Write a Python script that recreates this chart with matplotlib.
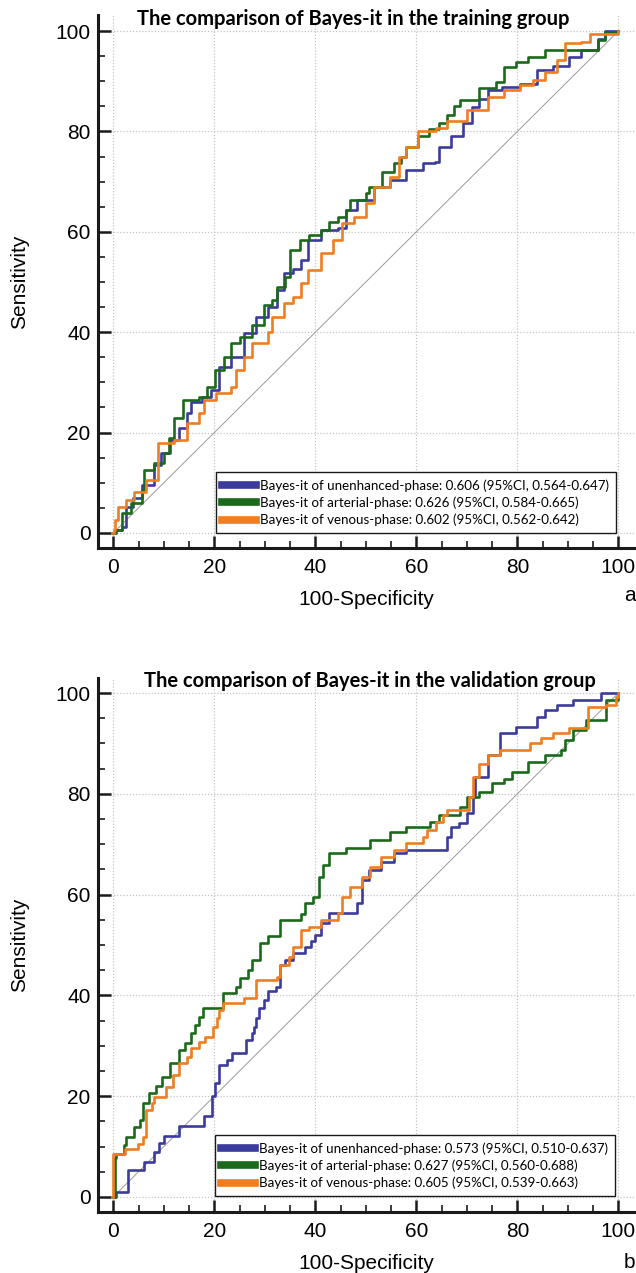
import matplotlib
matplotlib.use("Agg")
import matplotlib.pyplot as plt
from matplotlib.ticker import MultipleLocator

# ---------------- data (100-Specificity, Sensitivity) ----------------
a_unenh_x = [0, 0.5, 1.7, 2.5, 4, 5.7, 8.1, 9.5, 11.3, 13, 14.6, 15.4, 17.5, 19.4, 21, 23.4, 25.8, 28.3, 30.7,
             32.4, 33.8, 35.5, 37.2, 38.6, 41.1, 44.4, 46, 48.3, 51.7, 54.8, 58, 61.4, 63.6, 64.5, 66.9, 69.3,
             71, 72.5, 74.2, 77, 80.6, 83.8, 87, 90.3, 92.7, 95.9, 97.3, 100]
a_unenh_y = [0, 0.6, 1.2, 5.2, 7, 9.6, 13.5, 16, 18.5, 21, 23.9, 26.1, 27, 28.5, 33.1, 35.1, 39.8, 43, 45,
             48.4, 51.8, 52.5, 54.4, 58.4, 60.4, 60.8, 64.3, 66.3, 69, 70.3, 72.3, 73.7, 74, 77, 79, 81.6,
             84.9, 86.5, 88.2, 88.8, 89.5, 92.2, 93, 94.8, 96.2, 98.4, 100, 100]

a_art_x = [0, 0.3, 1.7, 3.5, 5.7, 6, 8.1, 10, 11, 12.1, 13.8, 17, 18.5, 20.2, 22, 23.4, 25, 27.4, 29.9, 31.5,
           32.5, 33.9, 35, 37, 38.7, 41.1, 42.7, 44.5, 46, 46.8, 50, 50.7, 53.2, 55.6, 57, 58, 60.4, 62.5,
           64.5, 66.1, 67.5, 68.6, 72.5, 75.8, 77.3, 79.8, 82.1, 85.5, 93.5, 95.9, 97.3, 100]
a_art_y = [0, 0.6, 4, 6, 8.6, 12.5, 13.9, 16, 19, 23, 26.5, 27, 29, 32.5, 35, 37.8, 39, 41.4, 45.4, 46.5,
           49, 51, 56.4, 58.4, 59.4, 60.4, 62, 63, 64.3, 66.3, 67.7, 69, 72, 73.7, 75, 77, 79, 80.5,
           81.6, 83.3, 85, 86.3, 88.6, 89.9, 92.8, 93.8, 94.8, 96.2, 96.2, 98.2, 99.8, 100]

a_ven_x = [0, 0.1, 0.4, 1, 2.5, 4.1, 6.5, 8.9, 8.9, 12.1, 14.5, 16.9, 17.9, 20.3, 23.4, 24.2, 25.8, 27.5,
           30.7, 31.4, 33.8, 35.5, 37.2, 38.6, 41.1, 43.5, 45.2, 47.6, 50, 51.6, 54.8, 56.5, 58, 60.4, 63.8,
           66.1, 70.1, 74.2, 77.3, 80.6, 83, 85.5, 87.9, 89.4, 92.7, 94.3, 100]
a_ven_y = [0, 0.6, 2.6, 5.2, 6.5, 8.2, 10.6, 13.2, 17.9, 18.5, 21.9, 23.9, 26.5, 27.9, 29.1, 32.5, 35.1, 37.8,
           40, 43, 45.8, 47, 49.8, 52.4, 55.8, 58.4, 61.8, 63, 65.7, 69, 70.9, 74.9, 77, 80, 80.6,
           82, 84.3, 86.9, 88.2, 89.2, 90.2, 91.8, 94.2, 97.6, 97.9, 99.4, 100]

b_unenh_x = [0, 0.5, 3, 3, 6, 6, 8, 8, 9, 10, 13, 13, 18, 18, 19.5, 19.5, 20.2, 21, 22.6, 23.5, 26.2, 26.2,
             27.5, 27.9, 28.3, 28.8, 29.8, 30.6, 32.2, 33.1, 34, 35.5, 37.9, 39.1, 40, 41.2, 42.8, 48.3, 48.3,
             49.3, 50.7, 53.1, 55.6, 58, 65.3, 66.1, 66.9, 68.5, 70.1, 71.3, 71.7, 74.2, 76.6, 79.8, 83,
             83.8, 85.5, 87.9, 91.1, 96.6, 100]
b_unenh_y = [0, 1, 1, 5.4, 5.4, 7, 7, 8.9, 10.7, 12, 12, 14, 14, 16, 16, 20, 22.6, 26.2, 27.2, 28.5, 28.5, 31.2,
             32.5, 33.8, 35.5, 37.5, 39.1, 40.8, 41.7, 46, 47, 48.4, 49.6, 50.8, 52, 54.3, 56.3, 56.3, 58.3,
             62.9, 64.9, 66.5, 68.2, 68.8, 68.8, 71.4, 73.4, 74.3, 76.2, 79.4, 83.3, 87.7, 92, 93.3, 93.3,
             95.2, 96.6, 97.6, 98.6, 100, 100]

b_art_x = [0, 0.4, 0.6, 2.1, 2.6, 4.1, 5.3, 5.8, 7, 8.5, 9.7, 11.3, 13, 14.1, 15.4, 16.2, 17, 17.8, 21.8,
           24.2, 25, 26.6, 27.4, 29, 30.6, 33.1, 37.2, 37.9, 39.6, 40.8, 41.5, 42.8, 46, 50.8, 54.8, 58,
           62.8, 64.5, 68.6, 70.1, 72.5, 74.9, 77.3, 79, 82.1, 85.5, 88.7, 89.4, 91.1, 93.5, 97.5, 97.5,
           100]
b_art_y = [0, 7.7, 8.6, 10.3, 11.9, 13.9, 15.3, 18.6, 20.6, 22, 23.8, 26.6, 29.2, 30.6, 32.5, 34.2, 35.7,
           37.5, 40.5, 41.7, 43.4, 45, 47, 50.4, 51.8, 55, 56.1, 58.3, 59.5, 63.5, 65.9, 68.2, 69.2, 70.8,
           72.4, 73.4, 74.4, 75.8, 77.4, 79.4, 80.4, 82.1, 83, 84.3, 86.3, 87.7, 88.7, 90.7, 92.7, 94.6,
           95.2, 98.6, 100]

b_ven_x = [0, 0, 2.4, 4.8, 5.8, 6.5, 6.5, 7.7, 8.1, 10.5, 11.8, 13, 14.5, 15.4, 17, 18.1, 19.8, 20.6, 21,
           21.8, 25, 25.8, 28.3, 32.4, 33.1, 34.7, 35.5, 37.2, 38.7, 41.1, 44.4, 45.2, 46.8, 49.2, 50.8,
           53.1, 55.6, 58, 61.4, 62.2, 63.8, 65.3, 66.1, 70.5, 71.3, 72.5, 74.2, 76.6, 82.6, 84.6, 87,
           90.3, 93.9, 97.5, 99.6, 100]
b_ven_y = [0, 8.6, 9.6, 10.6, 11.9, 13.9, 17.3, 18.6, 19.9, 21.8, 24.2, 26.6, 27.8, 29.6, 30.8, 31.8, 33.8,
           35.5, 37.1, 38.4, 38.4, 39.5, 43, 43.7, 46, 47.6, 49.6, 53, 53.6, 55, 56.3, 59.5, 61.5, 63.5,
           65.5, 67.5, 68.8, 70.2, 71.5, 72.8, 74.4, 75.8, 76.8, 79.4, 83.3, 86, 87.7, 88.7, 90, 91, 92,
           93, 97.2, 97.6, 99.2, 100]

titles = ["The comparison of Bayes-it in the training group",
          "The comparison of Bayes-it in the validation group"]
a_labels = ["Bayes-it of unenhanced-phase: 0.606 (95%CI, 0.564-0.647)",
            "Bayes-it of arterial-phase: 0.626 (95%CI, 0.584-0.665)",
            "Bayes-it of venous-phase: 0.602 (95%CI, 0.562-0.642)"]
b_labels = ["Bayes-it of unenhanced-phase: 0.573 (95%CI, 0.510-0.637)",
            "Bayes-it of arterial-phase: 0.627 (95%CI, 0.560-0.688)",
            "Bayes-it of venous-phase: 0.605 (95%CI, 0.539-0.663)"]
panel_tags = ["a", "b"]
xlabel = "100-Specificity"
ylabel = "Sensitivity"
major_ticks = [0, 20, 40, 60, 80, 100]

colors = ["#3b3b9c", "#1b6a1b", "#f07d1f"]

# ---------------- figure ----------------
fig = plt.figure(figsize=(6.36, 12.73), dpi=100)
ax_a = fig.add_axes([0.1535, 0.5695, 0.8434, 0.4187])
ax_b = fig.add_axes([0.1535, 0.0479, 0.8434, 0.4195])

panels = [
    (ax_a, [(a_unenh_x, a_unenh_y), (a_art_x, a_art_y), (a_ven_x, a_ven_y)], a_labels, titles[0],
     (-3.0, 103.2), 47.6, (99.5, 0.0)),
    (ax_b, [(b_unenh_x, b_unenh_y), (b_art_x, b_art_y), (b_ven_x, b_ven_y)], b_labels, titles[1],
     (-3.0, 103.0), 50.8, (99.3, 0.2)),
]

for ax, series, labels, title, ylim, tx, lanchor in panels:
    ax.set_xlim(-3.1, 103.1)
    ax.set_ylim(*ylim)
    ax.set_xticks(major_ticks)
    ax.set_yticks(major_ticks)
    ax.xaxis.set_minor_locator(MultipleLocator(5))
    ax.yaxis.set_minor_locator(MultipleLocator(5))
    ax.grid(True, which="major", linestyle=(0, (1, 1.5)), color="#c4c4c4", linewidth=0.9)
    ax.set_axisbelow(True)
    for s in ["top", "right"]:
        ax.spines[s].set_visible(False)
    for s in ["left", "bottom"]:
        ax.spines[s].set_linewidth(2.2)
        ax.spines[s].set_color("#1a1a1a")
    ax.tick_params(which="major", direction="in", length=9, width=1.8, color="#1a1a1a",
                   labelsize=15)
    ax.tick_params(which="minor", direction="in", length=5, width=1.2, color="#1a1a1a")
    ax.tick_params(axis="x", which="major", pad=7)
    ax.tick_params(axis="y", which="major", pad=5)
    for lab in ax.get_xticklabels() + ax.get_yticklabels():
        lab.set_fontfamily("Liberation Sans")

    ax.plot([0, 100], [0, 100], color="#9a9a9a", linewidth=0.7, zorder=2)

    handles = []
    for (xs, ys), c, lab in zip(series, colors, labels):
        h, = ax.plot(xs, ys, drawstyle="steps-post", color=c, linewidth=1.9, label=lab, zorder=3)
        handles.append(h)

    ax.text(tx, 101.2, title, ha="center", va="baseline", fontsize=14.5,
            fontweight="bold", family="Lato", zorder=5)

    ax.set_xlabel(xlabel, fontsize=15, family="Liberation Sans")
    ax.set_ylabel(ylabel, fontsize=15, family="Liberation Sans")
    ax.xaxis.set_label_coords(0.5, -0.078)
    ax.yaxis.set_label_coords(-0.128, 0.5)

    leg = ax.legend(handles=handles, loc="lower right", bbox_to_anchor=lanchor,
                    bbox_transform=ax.transData, fancybox=False, framealpha=1,
                    edgecolor="#1a1a1a", borderaxespad=0, borderpad=0.5,
                    handlelength=2.55, handletextpad=0.3, labelspacing=0.36,
                    prop={"family": "Lato", "size": 9.6})
    leg.get_frame().set_linewidth(1.0)
    for lh in leg.get_lines():
        lh.set_linewidth(5.5)

fig.text(0.99, 0.532, panel_tags[0], fontsize=15, family="Liberation Sans", ha="center", va="center")
fig.text(0.99, 0.0086, panel_tags[1], fontsize=15, family="Liberation Sans", ha="center", va="center")

fig.savefig("out.png", dpi=100)
